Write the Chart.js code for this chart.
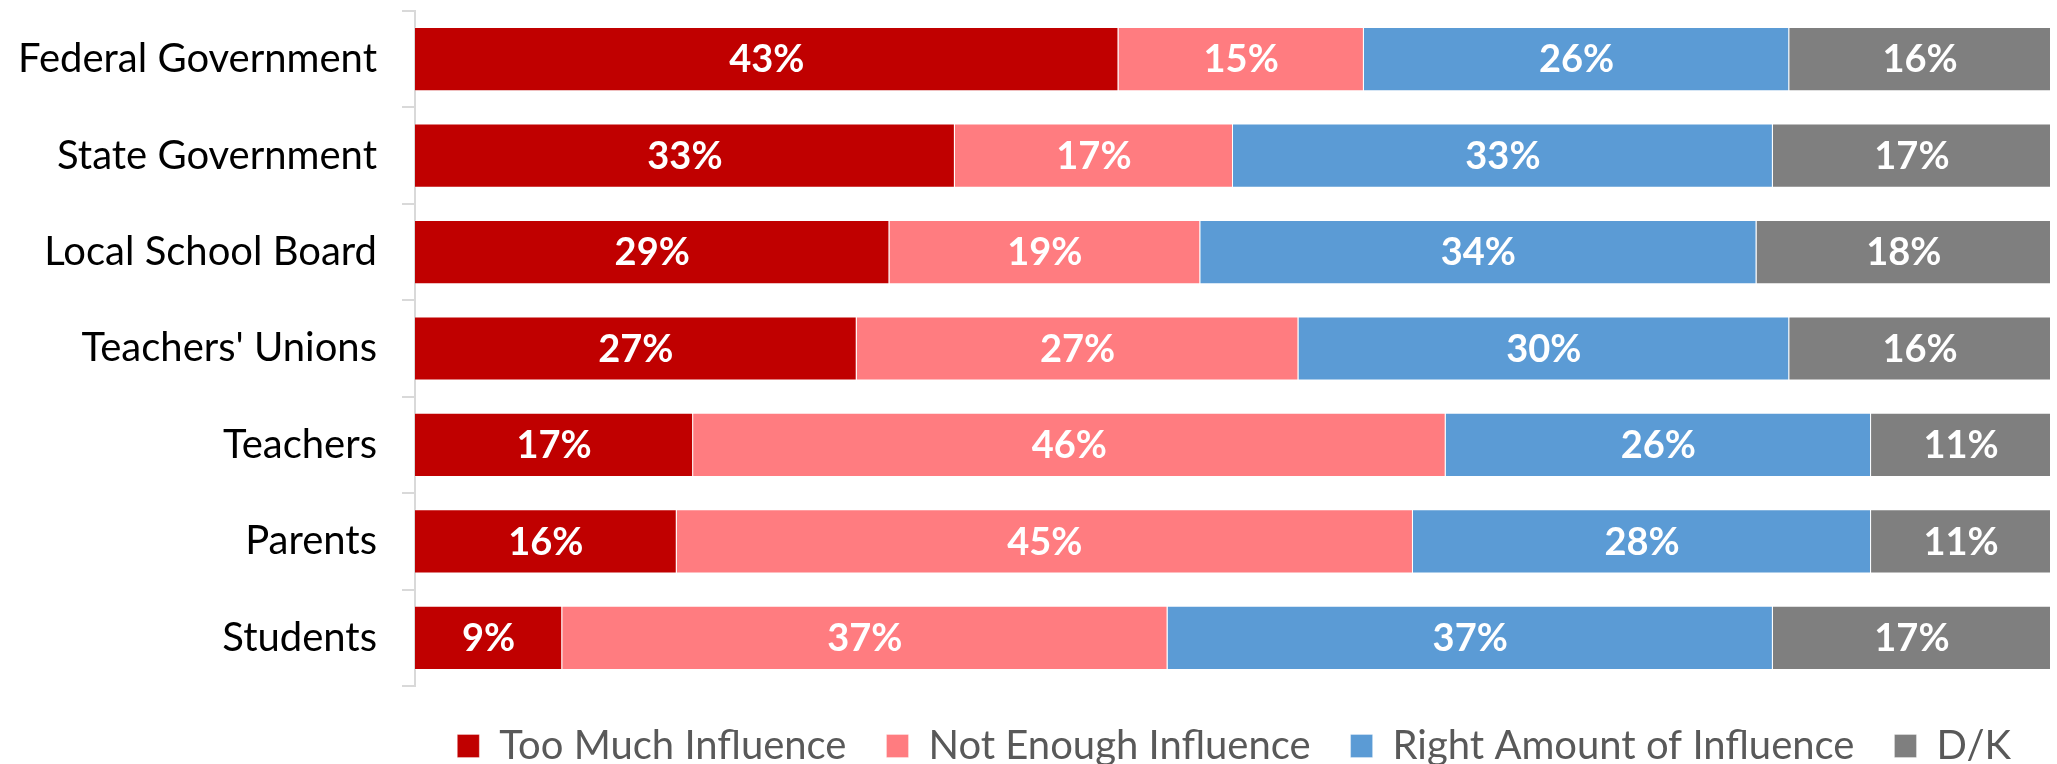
<!DOCTYPE html>
<html>
<head>
<meta charset="utf-8">
<script src="https://cdn.jsdelivr.net/npm/chart.js@4/dist/chart.umd.min.js"></script>
<style>
  html, body { margin: 0; padding: 0; background: #fff; overflow: hidden; }
  canvas { display: block; }
</style>
</head>
<body>
<canvas id="influenceChart" width="2057" height="776"></canvas>
<script>
const categories = ['Federal Government', 'State Government', 'Local School Board', "Teachers' Unions", 'Teachers', 'Parents', 'Students'];
const seriesNames = ['Too Much Influence', 'Not Enough Influence', 'Right Amount of Influence', 'D/K'];
const tooMuch = [43, 33, 29, 27, 17, 16, 9];
const notEnough = [15, 17, 19, 27, 46, 45, 37];
const rightAmount = [26, 33, 34, 30, 26, 28, 37];
const dontKnow = [16, 17, 18, 16, 11, 11, 17];
const colors = ['#C00000', '#FF7C80', '#5B9BD5', '#7F7F7F'];

// white percentage labels in the middle of every segment
const segmentLabels = {
    id: 'segmentLabels',
    afterDatasetsDraw(chart) {
        const ctx = chart.ctx;
        ctx.save();
        ctx.fillStyle = '#ffffff';
        ctx.font = 'bold 38px Lato';
        ctx.textAlign = 'center';
        ctx.textBaseline = 'middle';
        chart.data.datasets.forEach((ds, i) => {
            const meta = chart.getDatasetMeta(i);
            meta.data.forEach((bar, j) => {
                const x = (bar.x + bar.base) / 2;
                ctx.fillText(ds.data[j] + '%', x, bar.y + 1);
            });
        });
        ctx.restore();
    }
};

const series = [tooMuch, notEnough, rightAmount, dontKnow];

new Chart(document.getElementById('influenceChart'), {
    type: 'bar',
    data: {
        labels: categories,
        datasets: series.map((values, i) => ({
            label: seriesNames[i],
            data: values,
            backgroundColor: colors[i],
            borderColor: 'rgba(255, 255, 255, 0.3)',
            borderWidth: 1,
            barPercentage: 1,
            categoryPercentage: 0.666
        }))
    },
    options: {
        indexAxis: 'y',
        responsive: false,
        animation: false,
        layout: { padding: { top: 11, right: 6, left: 0, bottom: 0 } },
        scales: {
            x: {
                stacked: true,
                display: false,
                min: 0,
                max: 100
            },
            y: {
                stacked: true,
                afterFit: (scale) => {
                    scale.width = 415;
                    scale.paddingTop = 0;
                    scale.paddingBottom = 0;
                },
                border: { display: true, color: '#d9d9d9', width: 2 },
                grid: {
                    drawOnChartArea: false,
                    drawTicks: true,
                    tickLength: 13,
                    color: '#d9d9d9',
                    lineWidth: 2
                },
                ticks: {
                    color: '#000000',
                    padding: 25,
                    font: { family: 'Lato', size: 40 }
                }
            }
        },
        plugins: {
            tooltip: { enabled: false },
            legend: {
                position: 'bottom',
                align: 'end',
                labels: {
                    color: '#595959',
                    boxWidth: 22,
                    boxHeight: 23,
                    padding: 40,
                    font: { family: 'Lato', size: 40 }
                }
            }
        }
    },
    plugins: [segmentLabels]
});
</script>
</body>
</html>
